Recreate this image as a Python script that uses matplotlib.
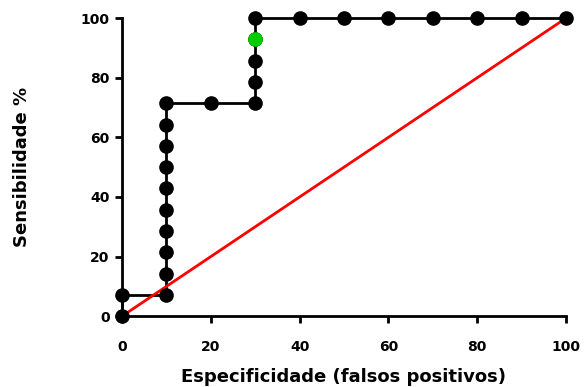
import matplotlib
matplotlib.use("Agg")
import matplotlib.pyplot as plt

plt.rcParams['font.family'] = ['DejaVu Sans']

# ROC curve points (specificity as false positives %, sensitivity %)
fpr = [0, 0, 10, 10, 10, 10, 10, 10, 10, 10, 10, 10, 20, 30, 30, 30, 30, 30,
       40, 50, 60, 70, 80, 90, 100]
sens = [0, 7.14, 7.14, 14.29, 21.43, 28.57, 35.71, 42.86, 50.0, 57.14, 64.29,
        71.43, 71.43, 71.43, 78.57, 85.71, 92.86, 100, 100, 100, 100, 100,
        100, 100, 100]
highlight_x = [30]
highlight_y = [92.86]
ref_x = [0, 100]
ref_y = [0, 100]

fig = plt.figure(figsize=(5.84, 3.87), dpi=100)
ax = fig.add_axes([0.209, 0.183, 0.760, 0.770])

ax.plot(fpr, sens, color='black', lw=2, zorder=2, clip_on=False)
ax.plot(ref_x, ref_y, color='#ff0000', lw=2, zorder=3, clip_on=False)
ax.plot(fpr, sens, 'o', color='black', ms=9.5, zorder=4, clip_on=False)
ax.plot(highlight_x, highlight_y, 'o', color='#00cc00', ms=9.5, zorder=5, clip_on=False)

ax.set_xlim(0, 100)
ax.set_ylim(0, 100)
ax.set_xticks([0, 20, 40, 60, 80, 100])
ax.set_yticks([0, 20, 40, 60, 80, 100])

for s in ['top', 'right']:
    ax.spines[s].set_visible(False)
for s in ['left', 'bottom']:
    ax.spines[s].set_linewidth(2)
ax.tick_params(width=2, length=5, labelsize=10)
ax.tick_params(axis='x', pad=12)
ax.tick_params(axis='y', pad=4)
for lab in ax.get_xticklabels() + ax.get_yticklabels():
    lab.set_fontweight('bold')

ax.set_xlabel('Especificidade (falsos positivos)', fontsize=13, fontweight='bold', labelpad=10)
ax.set_ylabel('Sensibilidade %', fontsize=13, fontweight='bold', labelpad=36)

fig.savefig('out.png', dpi=100)
